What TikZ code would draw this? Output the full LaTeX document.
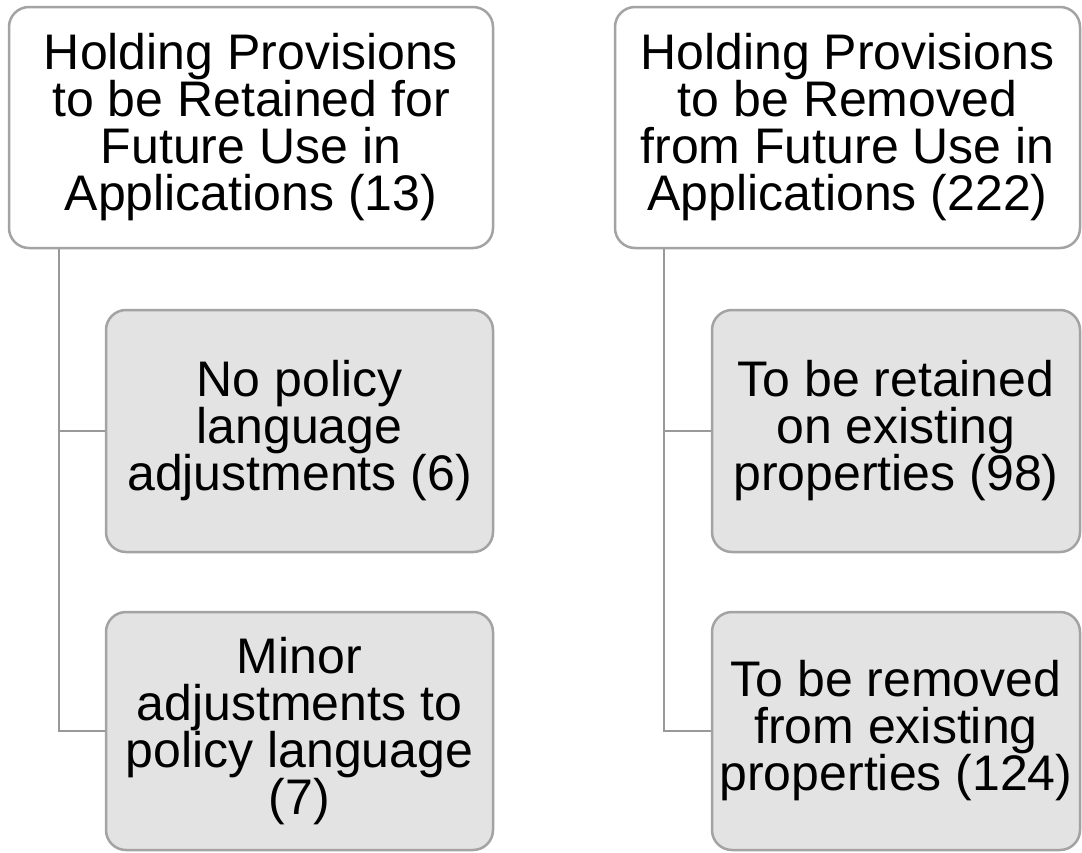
\documentclass[tikz,border=0pt]{standalone}
\usepackage{fontspec}
\setmainfont{Liberation Sans}
\usepackage{xcolor}
\usetikzlibrary{positioning}

\definecolor{boxgray}{HTML}{A3A3A3}
\definecolor{linkgray}{HTML}{999999}
\definecolor{subfill}{HTML}{E3E3E3}

\tikzset{
  topbox/.style={draw=boxgray, line width=2.5pt, rounded corners=20pt, fill=white,
    align=center, inner sep=0pt, font=\fontsize{50}{47}\selectfont},
  subbox/.style={topbox, fill=subfill},
  link/.style={draw=linkgray, line width=2.5pt}
}

\begin{document}
\begin{tikzpicture}[x=1pt, y=-1pt]
\useasboundingbox (0,0) rectangle (1082,852);
\clip (0,0) rectangle (1082,852);

% retained group
\node[topbox, minimum width=484pt, minimum height=241pt] (ltop) at (251,127.5)
  {Holding Provisions\\to be Retained for\\Future Use in\\Applications (13)};
\node[subbox, minimum width=387pt, minimum height=242pt] (lsub1) at (299.5,431)
  {No policy\\language\\adjustments (6)};
\node[subbox, minimum width=387pt, minimum height=238pt] (lsub2) at (299.5,731)
  {Minor\\adjustments to\\policy language\\(7)};

% removed group
\node[topbox, minimum width=465pt, minimum height=241pt] (rtop) at (847.5,127.5)
  {Holding Provisions\\to be Removed\\from Future Use in\\Applications (222)};
\node[subbox, minimum width=368pt, minimum height=242pt] (rsub1) at (896,431)
  {To be retained\\on existing\\properties (98)};
\node[subbox, minimum width=368pt, minimum height=238pt] (rsub2) at (896,731)
  {To be removed\\from existing\\properties (124)};

\draw[link] ([xshift=51pt]ltop.south west) |- (lsub1.west);
\draw[link] ([xshift=51pt]ltop.south west) |- (lsub2.west);
\draw[link] ([xshift=50pt]rtop.south west) |- (rsub1.west);
\draw[link] ([xshift=50pt]rtop.south west) |- (rsub2.west);
\end{tikzpicture}
\end{document}
